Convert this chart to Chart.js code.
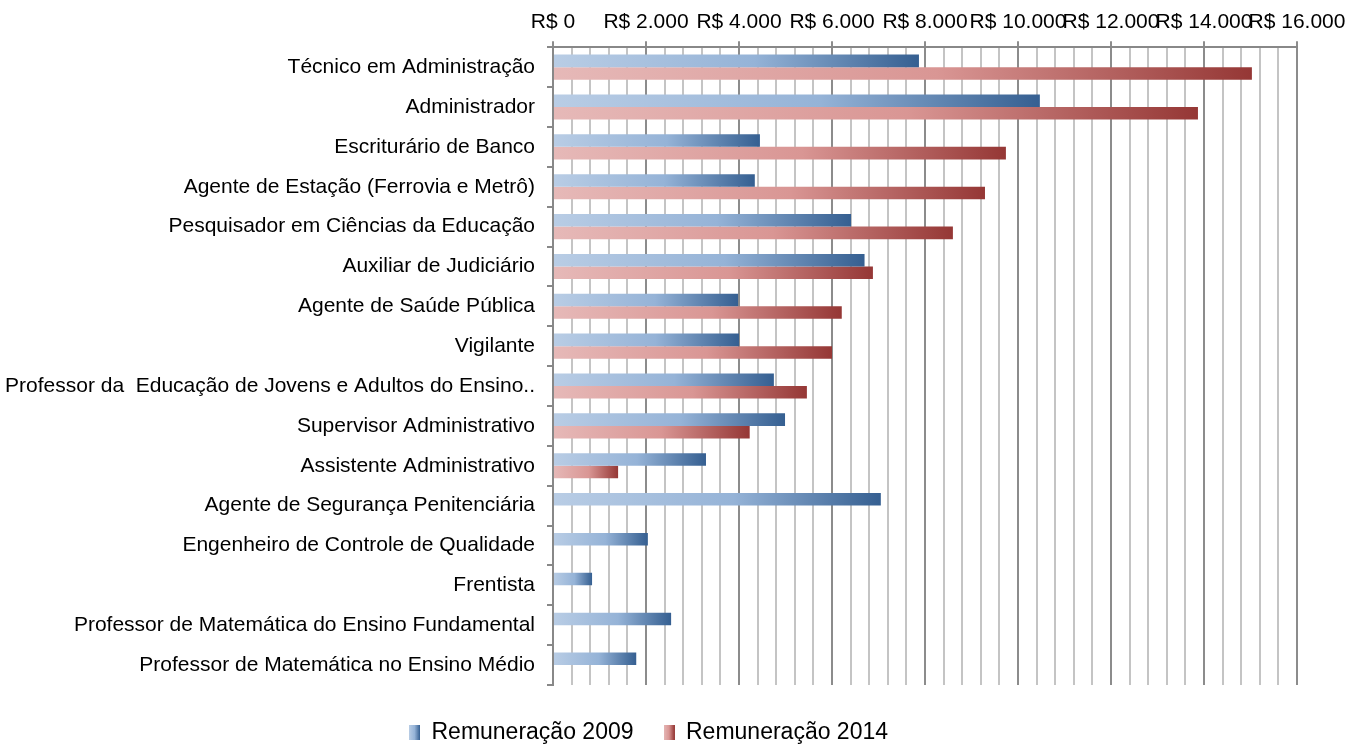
<!DOCTYPE html>
<html>
<head>
<meta charset="utf-8">
<script src="https://cdn.jsdelivr.net/npm/chart.js@4/dist/chart.umd.min.js"></script>
<style>
  html, body { margin: 0; padding: 0; background: #fff; }
  #wrap { width: 1347px; height: 751px; position: relative; }
</style>
</head>
<body>
<div id="wrap"><canvas id="chart"></canvas></div>
<script>
// categorias (ordem de cima para baixo)
const categories = [
    'Técnico em Administração',
    'Administrador',
    'Escriturário de Banco',
    'Agente de Estação (Ferrovia e Metrô)',
    'Pesquisador em Ciências da Educação',
    'Auxiliar de Judiciário',
    'Agente de Saúde Pública',
    'Vigilante',
    'Professor da  Educação de Jovens e Adultos do Ensino..',
    'Supervisor Administrativo',
    'Assistente Administrativo',
    'Agente de Segurança Penitenciária',
    'Engenheiro de Controle de Qualidade',
    'Frentista',
    'Professor de Matemática do Ensino Fundamental',
    'Professor de Matemática no Ensino Médio'
];

const rem2009 = [7870, 10470, 4450, 4340, 6410, 6700, 3980, 4000, 4750, 4990, 3290, 7050, 2040, 840, 2540, 1790];
const rem2014 = [15030, 13870, 9740, 9290, 8600, 6880, 6210, 6000, 5460, 4230, 1400, null, null, null, null, null];

const seriesNames = ['Remuneração 2009', 'Remuneração 2014'];
const xMin = 0, xMax = 16000, xStep = 400, xLabelStep = 2000;

// cores do degradê (claro -> médio -> escuro)
const blueStops = ['#b9cde5', '#95b3d7', '#355f91'];
const redStops = ['#e6b9b8', '#d99694', '#953735'];

const FONT = 'Liberation Sans, Arial, sans-serif';

function fmtReais(v) {
    return 'R$ ' + String(v).replace(/\B(?=(\d{3})+(?!\d))/g, '.');
}

// degradê por barra, do zero até o fim da barra
function barGradient(stops) {
    return function (ctx) {
        const chart = ctx.chart;
        if (ctx.type !== 'data' || !chart.chartArea || ctx.raw == null) return stops[1];
        const sx = chart.scales.x;
        const x0 = sx.getPixelForValue(0);
        const x1 = sx.getPixelForValue(ctx.raw);
        if (x1 - x0 < 1) return stops[2];
        const g = chart.ctx.createLinearGradient(x0, 0, x1, 0);
        g.addColorStop(0, stops[0]);
        g.addColorStop(0.55, stops[1]);
        g.addColorStop(1, stops[2]);
        return g;
    };
}

// quadradinho da legenda com degradê
function legendSwatch(stops) {
    const c = document.createElement('canvas');
    c.width = 11; c.height = 15;
    const g2 = c.getContext('2d');
    const g = g2.createLinearGradient(0, 0, 11, 0);
    g.addColorStop(0, stops[0]);
    g.addColorStop(0.5, stops[1]);
    g.addColorStop(1, stops[2]);
    g2.fillStyle = g;
    g2.fillRect(0, 0, 11, 15);
    return c;
}

const swatches = [legendSwatch(blueStops), legendSwatch(redStops)];

// altura fixa da legenda e leve deslocamento para a esquerda
const legendTweak = {
    id: 'legendTweak',
    beforeLayout(chart) {
        const lg = chart.legend;
        if (lg && !lg._patched) {
            const fit = lg.fit;
            lg.fit = function () {
                fit.call(this);
                this.height = 66;
            };
            lg._patched = true;
        }
    },
    afterLayout(chart) {
        const lg = chart.legend;
        if (lg) {
            lg.left -= 25;
            lg.right -= 25;
        }
    }
};

new Chart(document.getElementById('chart'), {
    type: 'bar',
    data: {
        labels: categories,
        datasets: [{
            label: seriesNames[0],
            data: rem2009,
            backgroundColor: barGradient(blueStops),
            pointStyle: swatches[0],
            categoryPercentage: 0.63,
            barPercentage: 1.0
        }, {
            label: seriesNames[1],
            data: rem2014,
            backgroundColor: barGradient(redStops),
            pointStyle: swatches[1],
            categoryPercentage: 0.63,
            barPercentage: 1.0
        }]
    },
    plugins: [legendTweak],
    options: {
        indexAxis: 'y',
        responsive: true,
        maintainAspectRatio: false,
        animation: false,
        layout: { padding: { left: 0, right: 0, top: 4, bottom: 0 } },
        plugins: {
            legend: {
                position: 'bottom',
                title: { display: true, text: '', font: { size: 5 }, padding: 0 },
                labels: {
                    usePointStyle: true,
                    color: '#000',
                    font: { family: FONT, size: 23 },
                    padding: 30,
                    boxWidth: 11,
                    boxHeight: 15
                }
            },
            tooltip: { enabled: false }
        },
        scales: {
            x: {
                position: 'top',
                min: xMin,
                max: xMax,
                afterFit: (scale) => { scale.paddingRight = 50; },
                border: { color: '#888', width: 2 },
                grid: {
                    color: (c) => (c.tick && c.tick.value % xLabelStep === 0) ? '#8c8c8c' : '#c4c4c4',
                    lineWidth: 2,
                    tickLength: 6,
                    tickColor: (c) => (c.tick && c.tick.value % xLabelStep === 0) ? '#8c8c8c' : 'rgba(0,0,0,0)'
                },
                ticks: {
                    stepSize: xStep,
                    autoSkip: false,
                    maxRotation: 0,
                    color: '#000',
                    padding: 6,
                    font: { family: FONT, size: 21 },
                    callback: (v) => (v % xLabelStep === 0) ? fmtReais(v) : ''
                }
            },
            y: {
                border: { color: '#888', width: 2 },
                afterFit: (scale) => { scale.width = 553; },
                grid: {
                    drawOnChartArea: false,
                    color: '#888',
                    tickLength: 6,
                    lineWidth: 2
                },
                ticks: {
                    color: '#000',
                    padding: 12,
                    autoSkip: false,
                    font: { family: FONT, size: 21 }
                }
            }
        }
    }
});
</script>
</body>
</html>
